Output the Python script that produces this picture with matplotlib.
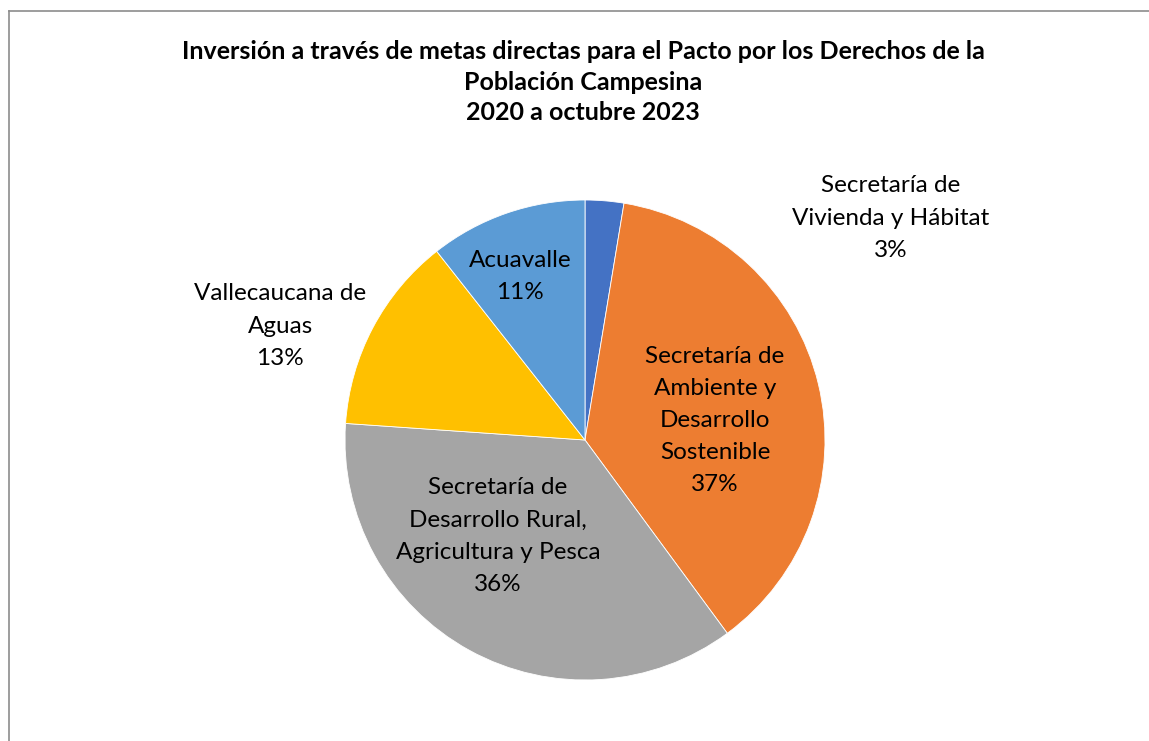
import matplotlib
matplotlib.use("Agg")
import matplotlib.pyplot as plt

categories = ["Secretaría de\nVivienda y Hábitat",
              "Secretaría de\nAmbiente y\nDesarrollo\nSostenible",
              "Secretaría de\nDesarrollo Rural,\nAgricultura y Pesca",
              "Vallecaucana de\nAguas",
              "Acuavalle"]
values = [2.6, 37.3, 36.2, 13.3, 10.6]
colors = ["#4472C4", "#ED7D31", "#A5A5A5", "#FFC000", "#5B9BD5"]
title = ("Inversión a través de metas directas para el Pacto por los Derechos de la\n"
         "Población Campesina\n2020 a octubre 2023")

plt.rcParams['font.family'] = ['Lato', 'DejaVu Sans']

W, H = 1149, 741
fig = plt.figure(figsize=(W/100, H/100), dpi=100)

# border lines (left and top)
fig.add_artist(plt.Line2D([9/W, 9/W], [0, 1 - 11/H], color="#8c8c8c", lw=1.2))
fig.add_artist(plt.Line2D([9/W, 1], [1 - 11/H, 1 - 11/H], color="#8c8c8c", lw=1.2))

cx, cy, r = 585, 440, 240
ax = fig.add_axes([(cx - r)/W, (H - cy - r)/H, 2*r/W, 2*r/H])
wedges, _ = ax.pie(values, colors=colors, startangle=90, counterclock=False,
                   radius=1, wedgeprops=dict(edgecolor="white", linewidth=0.6))
ax.set_xlim(-1, 1)
ax.set_ylim(-1, 1)
ax.set_aspect('equal')
ax.axis('off')

label_pos = [(1.275, 0.925), (0.542, 0.08), (-0.3625, -0.40), (-1.27, 0.475), (-0.271, 0.68)]
for cat, v, (x, y) in zip(categories, values, label_pos):
    ax.text(x, y, f"{cat}\n{round(v):.0f}%", ha="center", va="center",
            fontsize=17.5, color="black", linespacing=1.65, clip_on=False)

fig.text(583/W, 1 - 82/H, title, ha="center", va="center", fontsize=18,
         fontweight="bold", color="black", linespacing=1.42)

fig.savefig("out.png", dpi=100, facecolor="white")
